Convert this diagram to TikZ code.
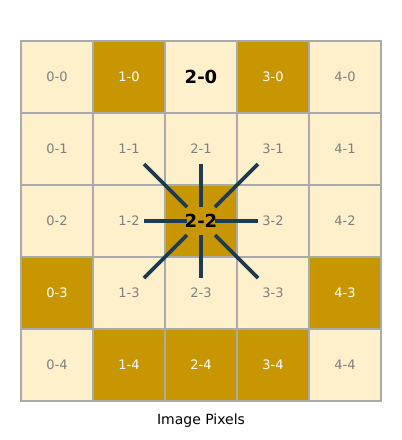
\documentclass[tikz,border=0pt]{standalone}
\usepackage{fontspec}
\setmainfont{DejaVu Sans}
\usetikzlibrary{calc}

\definecolor{cellcream}{HTML}{FFF0CC}
\definecolor{cellgold}{HTML}{C89600}
\definecolor{cellline}{HTML}{AAAAAA}
\definecolor{cellgrey}{HTML}{7F7F7F}
\definecolor{rayblue}{HTML}{1F3B4F}

\begin{document}
\begin{tikzpicture}[
        x=1pt,
        y=-1pt,
        light pixel/.style={
            draw=cellline,line width=1.3pt,fill=cellcream,
            minimum size=72pt,inner sep=0pt,
            text=cellgrey,font=\fontsize{13}{15}\selectfont
        },
        dark pixel/.style={light pixel,fill=cellgold,text=white},
        picked light/.style={light pixel,text=black,font=\fontsize{18}{20}\selectfont\bfseries},
        picked dark/.style={dark pixel,text=black,font=\fontsize{18}{20}\selectfont\bfseries},
        neighbour ray/.style={draw=rayblue,line width=3.6pt}
    ]
        \useasboundingbox (0,0) rectangle (402,440);

        % The five by five image, one node per pixel.
        \foreach \col/\row/\kind in {
            0/0/light pixel, 1/0/dark pixel, 2/0/picked light, 3/0/dark pixel, 4/0/light pixel,
            0/1/light pixel, 1/1/light pixel, 2/1/light pixel, 3/1/light pixel, 4/1/light pixel,
            0/2/light pixel, 1/2/light pixel, 2/2/picked dark, 3/2/light pixel, 4/2/light pixel,
            0/3/dark pixel, 1/3/light pixel, 2/3/light pixel, 3/3/light pixel, 4/3/dark pixel,
            0/4/light pixel, 1/4/dark pixel, 2/4/dark pixel, 3/4/dark pixel, 4/4/light pixel}
            \node[\kind] (px-\col-\row) at (57+72*\col,77+72*\row) {\col-\row};

        % The eight neighbour directions around the centre pixel.
        \foreach \dx/\dy in {1/0,1/1,0/1,-1/1,-1/0,-1/-1,0/-1,1/-1}
            \draw[neighbour ray]
                ($(px-2-2.center)+(14*\dx,14*\dy)$)
                -- ($(px-2-2.center)+(57*\dx,57*\dy)$);

        % Caption below the grid.
        \node[font=\fontsize{14}{16}\selectfont] (caption) at (201,421) {Image Pixels};
    \end{tikzpicture}
\end{document}
